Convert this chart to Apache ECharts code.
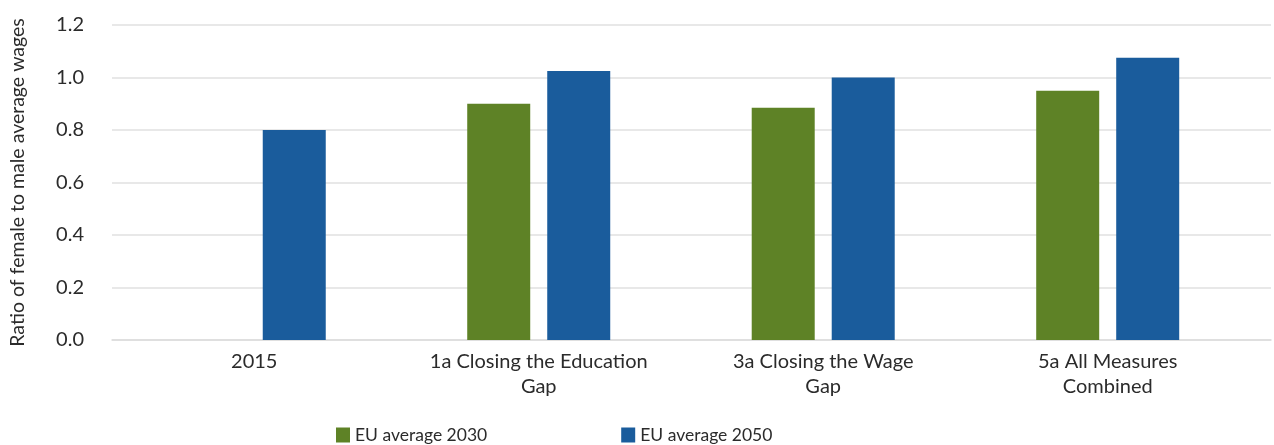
<!DOCTYPE html>
<html><head><meta charset="utf-8">
<script src="https://cdn.jsdelivr.net/npm/echarts@6/dist/echarts.min.js"></script>
<style>html,body{margin:0;padding:0;background:#fff}#c{width:1274px;height:445px}</style>
</head><body><div id="c"></div>
<script>
const categories = ["2015", "1a Closing the Education\nGap", "3a Closing the Wage\nGap", "5a All Measures\nCombined"];
const eu2030 = [null, 0.90, 0.885, 0.95];
const eu2050 = [0.80, 1.025, 1.0, 1.075];
const yTicks = { min: 0, max: 1.2, interval: 0.2 };
const FONT = "Lato";
const idx = categories.map((c, i) => i);
const chart = echarts.init(document.getElementById('c'));
chart.setOption({
  animation: false,
  textStyle: { fontFamily: FONT },
  grid: { left: 110, right: 3, top: 25, bottom: 105, containLabel: false },
  legend: {
    top: 421, left: 331, itemWidth: 14, itemHeight: 15, itemGap: 134,
    icon: 'rect',
    textStyle: { fontFamily: FONT, fontSize: 17.5, color: '#2b2b2b' },
    data: ['EU average 2030', 'EU average 2050']
  },
  xAxis: {
    type: 'value', min: -0.5, max: categories.length - 0.5 + 0.074,
    splitLine: { show: false },
    axisLine: { onZero: false, lineStyle: { color: '#dcdcdc', width: 1.5 } },
    axisTick: { show: false },
    axisLabel: {
      customValues: idx, showMinLabel: true, showMaxLabel: true, hideOverlap: false,
      fontFamily: FONT, fontSize: 20, color: '#2b2b2b', margin: 9, lineHeight: 25,
      formatter: v => categories[Math.round(v)] ?? ''
    }
  },
  yAxis: {
    type: 'value', min: yTicks.min, max: yTicks.max, interval: yTicks.interval,
    name: 'Ratio of female to male average wages', nameLocation: 'middle', nameGap: 84,
    nameTextStyle: { fontFamily: FONT, fontSize: 19.5, color: '#2b2b2b' },
    axisLabel: { fontFamily: FONT, fontSize: 20, color: '#2b2b2b', margin: 28, formatter: v => v.toFixed(1) },
    splitLine: { lineStyle: { color: '#e0e0e0', width: 1.5 } },
    axisLine: { show: false }, axisTick: { show: false }
  },
  series: [
    { name: 'EU average 2030', type: 'bar', data: idx.map(i => [i, eu2030[i]]), barWidth: 63, barGap: '27%', itemStyle: { color: '#5e8226' } },
    { name: 'EU average 2050', type: 'bar', data: idx.map(i => [i, eu2050[i]]), barWidth: 63, barGap: '27%', itemStyle: { color: '#1a5c9c' } }
  ]
});
</script></body></html>
